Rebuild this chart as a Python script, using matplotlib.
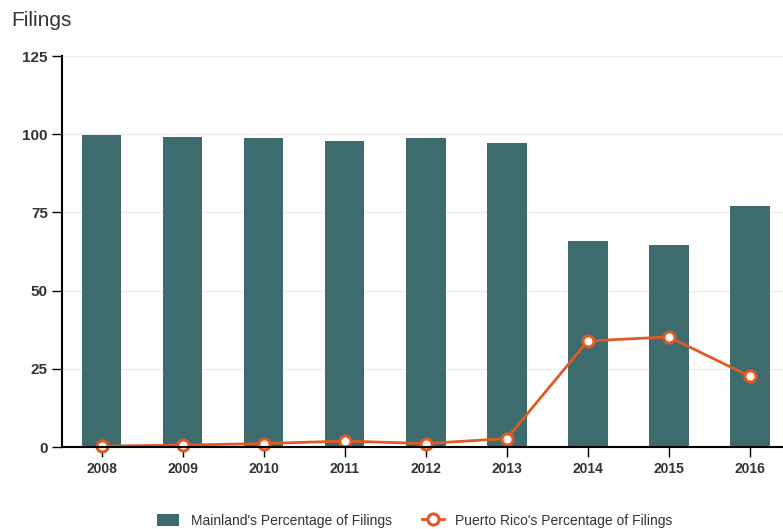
import matplotlib.pyplot as plt
import numpy as np

# ------------------------------------------------------------
# Data
# ------------------------------------------------------------
years = ["2008", "2009", "2010", "2011", "2012", "2013", "2014", "2015", "2016"]
mainland = [99.7, 99.2, 98.8, 97.8, 98.8, 97.1, 65.9, 64.6, 77.1]
puerto_rico = [0.3, 0.6, 1.1, 1.9, 1.1, 2.7, 33.9, 35.2, 22.6]
y_ticks = [0, 25, 50, 75, 100, 125]

BAR_COLOR = "#3e6b6e"
LINE_COLOR = "#e05a25"
FONT = ["Liberation Sans Narrow", "Liberation Sans", "DejaVu Sans"]

plt.rcParams["font.family"] = FONT

fig = plt.figure(figsize=(7.83, 5.29), dpi=100)
ax = fig.add_axes([0.079, 0.155, 0.921, 0.739])

x = np.arange(len(years))
bars = ax.bar(x, mainland, width=0.49, color=BAR_COLOR, zorder=2,
              label="Mainland's Percentage of Filings")
line, = ax.plot(x, puerto_rico, color=LINE_COLOR, linewidth=2, marker="o",
                markersize=8, markerfacecolor="white", markeredgecolor=LINE_COLOR,
                markeredgewidth=2.2, zorder=3, clip_on=False,
                label="Puerto Rico's Percentage of Filings")

ax.set_xlim(-0.49, 8.41)
ax.set_ylim(0, 125)
ax.set_xticks(x)
ax.set_xticklabels(years, fontsize=10, fontweight="bold", color="#333333")
ax.set_yticks(y_ticks)
ax.set_yticklabels([str(t) for t in y_ticks], fontsize=11, fontweight="bold",
                   color="#333333")
ax.tick_params(axis="both", length=7, width=1, color="black", pad=3)
ax.tick_params(axis="x", pad=4)

ax.grid(axis="y", color="#eeeeee", linewidth=1, zorder=0)
ax.set_axisbelow(True)
for side in ["top", "right"]:
    ax.spines[side].set_visible(False)
for side in ["left", "bottom"]:
    ax.spines[side].set_linewidth(1.5)
    ax.spines[side].set_color("black")
    ax.spines[side].set_zorder(4)

fig.text(0.015, 0.962, "Filings", fontsize=15, color="#333333",
         family=["Liberation Sans", "DejaVu Sans"], va="center")

leg = fig.legend([bars, line],
                 ["Mainland's Percentage of Filings", "Puerto Rico's Percentage of Filings"],
                 loc="center", bbox_to_anchor=(0.53, 0.016), ncol=2, frameon=False,
                 fontsize=10, handlelength=1.6, columnspacing=2.2,
                 handleheight=1.0, borderaxespad=0)
for t in leg.get_texts():
    t.set_color("#333333")

fig.savefig("out.png", dpi=100)
